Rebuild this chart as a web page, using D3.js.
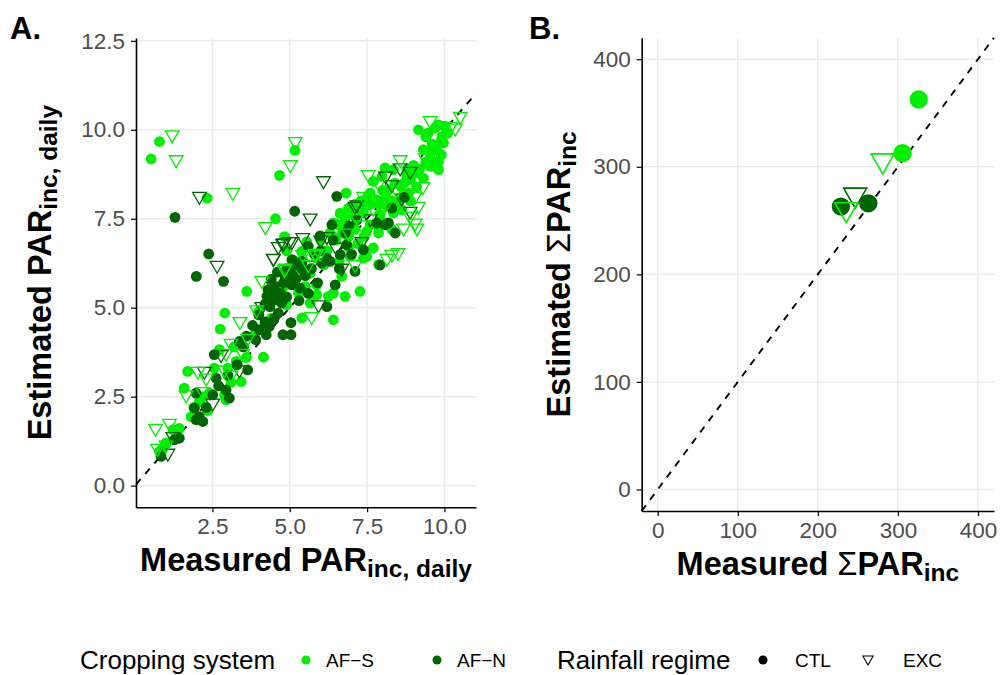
<!DOCTYPE html>
<html>
<head>
<meta charset="utf-8">
<script src="https://cdn.jsdelivr.net/npm/d3@7"></script>
<style>
  body { margin: 0; background: #fff; }
  text { font-family: "Liberation Sans", Arial, Helvetica, sans-serif; }
</style>
</head>
<body>
<svg id="chart" width="1000" height="675"></svg>
<script>
// ---- panel A: daily PAR, [measured, estimated] ----
const afsCtlDaily = [
  [0.79,9.67],[0.52,9.18],[2.33,8.08],[5.17,9.42],[4.67,8.72],[4.54,7.50],[3.61,5.46],[2.90,4.85],[2.75,4.40],
  [4.83,7.00],[5.31,6.07],[5.64,5.97],[3.86,4.24],[4.15,3.61],[2.73,3.82],[3.27,3.49],[3.43,2.92],[1.70,3.21],
  [2.56,3.30],[1.59,2.74],[2.89,2.55],[2.94,2.41],[2.08,2.36],[2.35,2.11],[1.81,1.94],[1.22,1.57],[1.43,1.61],
  [0.90,1.05],[0.79,0.96],[6.30,7.10],[6.57,7.33],[6.79,7.52],[7.38,7.66],[7.49,7.14],[7.87,7.10],[7.70,6.68],
  [7.38,6.39],[7.87,6.21],[6.95,6.44],[7.49,6.44],[6.68,5.88],[7.27,5.46],[6.79,5.32],[6.41,5.41],[6.25,5.32],
  [5.87,5.36],[5.66,5.13],[5.39,4.71],[6.41,4.66],[5.66,5.97],[5.28,6.07],[5.39,6.58],[4.90,5.08],[5.28,5.41],
  [5.87,5.64],[9.81,10.14],[9.16,10.00],[9.48,9.91],[9.92,9.81],[9.97,9.63],[9.75,9.44],[9.32,9.44],[9.54,9.21],
  [9.81,9.11],[9.81,8.88],[9.54,8.97],[8.08,8.93],[8.35,8.88],[8.78,8.74],[9.11,8.79],[9.32,8.64],[7.98,8.69],
  [7.70,8.55],[8.19,8.32],[8.84,8.22],[6.82,8.22],[7.60,8.22],[7.81,8.03],[7.44,7.85],[8.19,7.85],[8.62,7.75],
  [6.63,7.66],[7.06,7.61],[7.92,7.61],[8.35,7.66],[7.87,7.28],[7.60,7.33],[6.41,7.38],[6.00,6.90],[6.20,6.60],
  [6.50,6.90],[6.90,7.00],[7.10,7.20],[6.60,6.30],[6.10,6.20],[7.20,6.80],[8.00,7.40],[8.30,7.20],[8.50,7.90],
  [8.90,8.00],[9.10,8.40],[8.70,8.50],[9.00,9.00],[9.60,9.60],[9.90,9.30],[10.10,9.90],[9.70,10.05],[10.00,10.10],
  [7.10,7.90],[7.30,8.00],[7.60,7.90],[8.10,8.10],[8.40,8.50],[8.80,8.90],[3.20,3.90],[3.60,3.60],[3.00,3.30],
  [2.20,2.50],[2.40,2.60],[1.90,2.20],[1.00,1.20],[3.10,2.90],[3.50,3.90],[4.40,4.70],[4.80,5.60],[5.50,5.60],
  [5.00,5.90],[4.00,4.90],[5.20,6.30],[5.55,6.85],[4.90,6.60],[8.60,8.40],[8.90,8.60],[9.20,8.90],[9.40,9.10],
  [9.60,9.40],[9.70,9.00],[9.90,9.70],[9.40,9.80],[8.00,8.30],[7.50,8.10],[7.20,7.70],[6.90,7.80],[6.40,7.00],
  [6.70,7.10],[7.90,7.90],[8.30,8.00],[8.60,8.10],[6.90,6.70],[7.40,7.00]
]
const afnCtlDaily = [
  [1.29,7.54],[2.38,6.51],[1.98,5.88],[2.86,5.74],[5.04,4.58],[5.16,7.71],[5.98,7.02],[6.52,8.13],[4.02,4.38],
  [4.24,4.24],[4.34,4.47],[4.78,4.24],[5.04,4.24],[3.37,4.05],[2.56,3.68],[3.64,3.25],[2.62,3.02],[1.97,2.60],
  [2.51,2.55],[2.94,2.69],[3.05,2.46],[1.92,2.18],[2.08,1.94],[2.19,1.80],[1.97,1.85],[1.43,1.33],[1.27,1.29],
  [0.84,0.82],[6.36,7.33],[7.17,7.47],[7.81,7.38],[8.08,7.33],[7.38,6.63],[6.63,6.49],[6.84,6.77],[7.11,6.02],
  [6.47,5.64],[6.20,5.03],[6.04,6.25],[5.60,6.72],[6.20,6.39],[5.07,6.35],[4.85,5.88],[5.07,5.64],[4.26,5.32],
  [4.53,5.22],[4.74,5.13],[4.36,5.03],[4.63,4.85],[5.33,5.55],[8.19,7.38],[8.41,7.10],[7.92,6.20],[4.30,5.50],
  [4.50,5.60],[4.70,5.40],[4.90,5.30],[4.40,5.80],[4.60,6.00],[4.90,6.10],[5.10,5.90],[5.20,6.20],[5.40,6.30],
  [5.50,5.90],[5.70,6.10],[5.80,6.50],[6.00,6.60],[5.30,5.20],[4.20,5.10],[4.50,4.70],[3.80,4.50],[4.00,4.80],
  [3.50,3.90],[3.30,3.40],[3.00,3.10],[2.70,2.80],[2.30,2.20],[6.40,6.90],[6.90,7.30],[6.60,6.10],[7.00,6.50],
  [5.90,5.70],[8.30,7.80],[8.70,8.10],[3.90,4.10],[5.60,5.40],[4.60,5.40],[4.80,5.70],[5.00,6.00],[4.40,5.30],
  [4.70,5.20],[5.20,5.80],[5.40,6.10],[4.20,4.60],[3.60,4.20],[6.30,6.30],[6.80,7.10]
]
const afsExcDaily = [
  [1.20,9.86],[1.33,9.16],[3.16,8.24],[5.18,9.67],[5.02,9.02],[4.21,7.28],[5.42,6.49],[5.64,6.49],[5.85,6.49],
  [4.83,6.07],[4.10,5.76],[3.39,4.61],[3.64,4.14],[3.10,4.00],[2.94,3.72],[3.48,3.72],[3.10,3.11],[2.03,3.21],
  [2.30,3.02],[2.89,3.25],[1.65,2.55],[2.19,2.64],[0.66,1.61],[1.11,1.75],[0.73,1.05],[1.00,1.14],[7.33,7.33],
  [8.14,6.39],[7.11,6.21],[5.71,4.75],[5.60,6.21],[5.82,6.53],[5.98,6.53],[4.85,6.11],[3.93,4.94],[9.54,10.26],
  [10.51,10.38],[10.35,10.05],[9.38,9.21],[8.57,9.16],[7.54,8.74],[7.87,8.50],[8.46,8.32],[9.05,8.13],[9.16,7.85],
  [7.38,8.13],[8.89,7.57],[9.05,7.38],[9.11,7.24],[8.68,7.24],[7.17,7.52],[8.30,6.50],[8.50,6.55],[10.20,10.10],
  [6.70,7.50],[6.90,7.10],[7.70,7.80],[8.10,7.90],[9.30,8.40]
]
const afnExcDaily = [
  [2.08,8.13],[6.09,8.57],[5.66,7.52],[2.65,6.19],[4.47,6.38],[4.77,6.80],[4.99,6.86],[5.42,6.97],[2.78,3.68],
  [3.37,3.25],[2.24,3.21],[2.51,2.32],[1.22,1.38],[1.06,0.91],[7.11,7.85],[7.33,6.86],[6.68,6.11],[5.93,5.08],
  [4.80,6.82],[5.07,6.86],[4.63,6.72],[4.47,6.39],[4.47,5.60],[4.69,5.60],[4.10,5.03],[8.57,8.93],[8.89,8.83],
  [8.30,8.46],[8.62,8.08],[7.17,7.89],[8.89,7.71],[6.20,7.00],[6.50,6.70],[6.00,6.90],[5.70,6.20],[7.60,7.50],
  [8.10,8.70]
]

// ---- panel B: cumulative PAR ----
const afsCtlSum = [[326,362.5],[305.8,312.7]]
const afnCtlSum = [[228.8,263],[263,266]]
const afsExcSum = [[281,305.8],[235.4,260.4]]
const afnExcSum = [[246.6,274]]

const ticksA = [0, 2.5, 5, 7.5, 10, 12.5]
const ticksB = [0, 100, 200, 300, 400]

const colorSet = { 'AF-S': '#00ee00', 'AF-N': '#006400' }
const greyText = '#4d4d4d'

const svg = d3.select('#chart')

function triPath(cx, cy, r) {
  const h = r * Math.sqrt(3) / 2
  return `M${cx - h},${cy - r / 2}L${cx + h},${cy - r / 2}L${cx},${cy + r}Z`
}

function drawPanel(cfg) {
  const x = d3.scaleLinear().domain(cfg.xDomain).range([cfg.left, cfg.right])
  const y = d3.scaleLinear().domain(cfg.yDomain).range([cfg.bottom, cfg.top])
  const g = svg.append('g')

  const xt = cfg.ticks.filter(d => d >= cfg.xDomain[0] && d <= cfg.xDomain[1])
  const yt = cfg.ticks.filter(d => d >= cfg.yDomain[0] && d <= cfg.yDomain[1])

  g.selectAll('.gx').data(xt).enter().append('line')
    .attr('x1', d => x(d)).attr('x2', d => x(d))
    .attr('y1', cfg.top).attr('y2', cfg.bottom)
    .style('stroke', '#ebebeb').style('stroke-width', 1.5)
  g.selectAll('.gy').data(yt).enter().append('line')
    .attr('y1', d => y(d)).attr('y2', d => y(d))
    .attr('x1', cfg.left).attr('x2', cfg.right)
    .style('stroke', '#ebebeb').style('stroke-width', 1.5)

  // 1:1 line
  const lo = Math.max(cfg.xDomain[0], cfg.yDomain[0])
  const hi = Math.min(cfg.xDomain[1], cfg.yDomain[1])
  g.append('line')
    .attr('x1', x(lo)).attr('y1', y(lo)).attr('x2', x(hi)).attr('y2', y(hi))
    .style('stroke', '#000').style('stroke-width', 1.9).style('stroke-dasharray', '7,7')

  const pts = g.append('g')
  cfg.circles.forEach(s => {
    pts.selectAll(null).data(s.data).enter().append('circle')
      .attr('cx', d => x(d[0])).attr('cy', d => y(d[1])).attr('r', cfg.r)
      .style('fill', colorSet[s.sys])
  })
  cfg.triangles.forEach(s => {
    pts.selectAll(null).data(s.data).enter().append('path')
      .attr('d', d => triPath(x(d[0]), y(d[1]), cfg.tr))
      .style('fill', 'none').style('stroke', colorSet[s.sys]).style('stroke-width', cfg.tw)
  })

  const xAxis = g.append('g').attr('transform', `translate(0,${cfg.bottom})`)
    .call(d3.axisBottom(x).tickValues(xt).tickFormat(cfg.fmt).tickSize(5).tickSizeOuter(0).tickPadding(6))
  const yAxis = g.append('g').attr('transform', `translate(${cfg.left},0)`)
    .call(d3.axisLeft(y).tickValues(yt).tickFormat(cfg.fmt).tickSize(5).tickSizeOuter(0).tickPadding(6))
  ;[xAxis, yAxis].forEach(a => {
    a.select('.domain').style('stroke', '#000').style('stroke-width', 1.6)
    a.selectAll('.tick line').style('stroke', '#000').style('stroke-width', 1.2)
    a.selectAll('.tick text').style('fill', greyText).style('font-size', '22.5px')
      .style('font-family', '"Liberation Sans", Arial, sans-serif')
  })

  // panel letter
  svg.append('text').attr('x', cfg.letterX).attr('y', 39)
    .style('font-size', '31px').style('font-weight', 'bold').text(cfg.letter)

  // axis titles
  const cx = (cfg.left + cfg.right) / 2
  const xt1 = svg.append('text').attr('x', cx).attr('y', cfg.bottom + 64)
    .attr('text-anchor', 'middle').style('font-size', '32.5px').style('font-weight', 'bold')
  cfg.title(xt1, 'Measured')

  const cy = (cfg.top + cfg.bottom) / 2
  const yt1 = svg.append('text').attr('transform', `translate(${cfg.yTitleX},${cy}) rotate(-90)`)
    .attr('text-anchor', 'middle').style('font-size', '32.5px').style('font-weight', 'bold')
  cfg.title(yt1, 'Estimated')
}

function titleDaily(t, word) {
  t.append('tspan').text(word + ' PAR')
  t.append('tspan').attr('dy', 6).style('font-size', '24.5px').text('inc, daily')
}
function titleSum(t, word) {
  t.append('tspan').text(word + ' ')
  t.append('tspan').style('font-weight', 'normal').text('\u03A3')
  t.append('tspan').text('PAR')
  t.append('tspan').attr('dy', 6).style('font-size', '24.5px').text('inc')
}

drawPanel({
  letter: 'A.', letterX: 10,
  left: 136, right: 476, top: 38, bottom: 507.3,
  xDomain: [0.03, 11.02], yDomain: [-0.61, 12.58],
  ticks: ticksA, fmt: d3.format('.1f'),
  r: 5.4, tr: 7.9, tw: 1.3, yTitleX: 51,
  circles: [{ sys: 'AF-S', data: afsCtlDaily }, { sys: 'AF-N', data: afnCtlDaily }],
  triangles: [{ sys: 'AF-N', data: afnExcDaily }, { sys: 'AF-S', data: afsExcDaily }],
  title: titleDaily
})

drawPanel({
  letter: 'B.', letterX: 529,
  left: 641.7, right: 994, top: 37.7, bottom: 511,
  xDomain: [-20, 420], yDomain: [-20, 420],
  ticks: ticksB, fmt: d3.format('d'),
  r: 9.2, tr: 13.3, tw: 1.6, yTitleX: 570,
  circles: [{ sys: 'AF-N', data: afnCtlSum }, { sys: 'AF-S', data: afsCtlSum }],
  triangles: [{ sys: 'AF-N', data: afnExcSum }, { sys: 'AF-S', data: afsExcSum }],
  title: titleSum
})

// ---- legend ----
const legY = 660
const leg = svg.append('g')
const legText = (x, txt, size) => leg.append('text').attr('x', x).attr('y', legY + size * 0.36)
  .style('font-size', size + 'px').text(txt)

legText(80, 'Cropping system', 26)
leg.append('circle').attr('cx', 306).attr('cy', legY).attr('r', 4.5).style('fill', colorSet['AF-S'])
legText(326, 'AF\u2212S', 19)
leg.append('circle').attr('cx', 437).attr('cy', legY).attr('r', 4.5).style('fill', colorSet['AF-N'])
legText(457, 'AF\u2212N', 19)
legText(557, 'Rainfall regime', 26)
leg.append('circle').attr('cx', 763).attr('cy', legY).attr('r', 4.5).style('fill', '#000')
legText(795, 'CTL', 19)
leg.append('path').attr('d', triPath(868, legY - 1, 6)).style('fill', 'none').style('stroke', '#000').style('stroke-width', 1.1)
legText(903, 'EXC', 19)
</script>
</body>
</html>
